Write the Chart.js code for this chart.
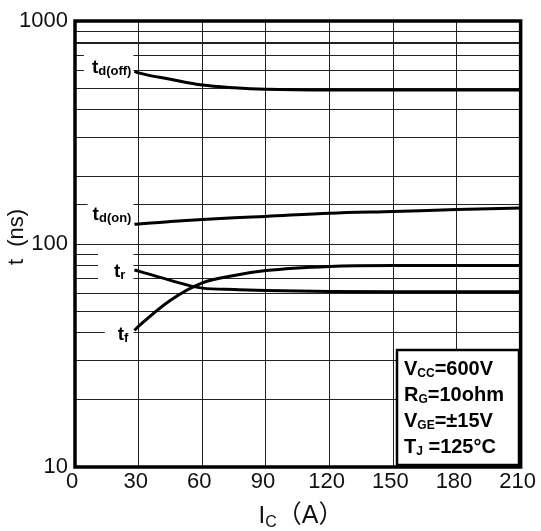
<!DOCTYPE html>
<html>
<head>
<meta charset="utf-8">
<script src="https://cdn.jsdelivr.net/npm/chart.js@4"></script>
<style>
  html, body { margin: 0; padding: 0; background: #fff; }
</style>
</head>
<body>
<canvas id="myChart" width="541" height="531"></canvas>
<script>
// switching times vs collector current
const corriente = [28, 30, 45, 60, 75, 90, 120, 150, 180, 210];
const tdOff = [595, 585, 548, 516, 502, 494, 490, 490, 490, 490];
const tdOn = [122.5, 123, 126, 128.7, 131, 133, 137.5, 140, 142.7, 145];
const tR = [76.5, 75.6, 68.7, 63.4, 62.5, 61.9, 61.3, 61, 61, 61];
const tF = [41, 42.8, 56, 67, 72.3, 76, 79.3, 80, 80, 80];
const xTicks = [0, 30, 60, 90, 120, 150, 180, 210];
const yTicks = [10, 100, 1000];
const condiciones = [
  ["V", "CC", "=600V"],
  ["R", "G", "=10ohm"],
  ["V", "GE", "=±15V"],
  ["T", "J", " =125°C"],
];

const chartEl = document.getElementById("myChart");
const FAMILY = '"Liberation Sans", Arial, sans-serif';

const toPoints = (serie) => corriente.map((x, i) => ({ x, y: serie[i] }));

// curve name labels, anchored to the first point of each curve
const curveLabels = [
  { serie: tdOff, sub: "d(off)", dx: -3, dy: 2, padL: 8, padT: 22 },
  { serie: tdOn, sub: "d(on)", dx: -3, dy: -4, padL: 5, padT: 22 },
  { serie: tR, sub: "r", dx: -9, dy: 7, padL: 16, padT: 28 },
  { serie: tF, sub: "f", dx: -6, dy: 10, padL: 13, padT: 22 },
];

const richWidth = (ctx, parts) =>
  parts.reduce((w, [txt, font]) => {
    ctx.font = font;
    return w + ctx.measureText(txt).width;
  }, 0);

const drawRich = (ctx, parts, x, y) => {
  parts.forEach(([txt, font, dy]) => {
    ctx.font = font;
    ctx.fillText(txt, x, y + dy);
    x += ctx.measureText(txt).width;
  });
  return x;
};

const decoracion = {
  id: "decoracion",
  beforeDatasetsDraw(chart) {
    const { ctx, scales } = chart;
    const x0 = scales.x.getPixelForValue(corriente[0]);
    ctx.save();
    ctx.textBaseline = "alphabetic";
    curveLabels.forEach((lab) => {
      const parts = [
        ["t", "bold 19px " + FAMILY, 0],
        [lab.sub, "bold 13px " + FAMILY, 2],
      ];
      const w = richWidth(ctx, parts);
      const right = x0 + lab.dx;
      const base = scales.y.getPixelForValue(lab.serie[0]) + lab.dy;
      ctx.fillStyle = "#fff";
      ctx.fillRect(right - w - lab.padL, base - lab.padT, w + lab.padL + (x0 - right) - 1, lab.padT + 8);
      ctx.fillStyle = "#000";
      drawRich(ctx, parts, right - w, base);
    });
    ctx.restore();
  },
  afterDraw(chart) {
    const { ctx, chartArea: a } = chart;
    ctx.save();

    // conditions box
    const bx = 397, by = 350, bw = 122, bh = 115;
    ctx.fillStyle = "#fff";
    ctx.fillRect(bx, by, bw, bh);
    ctx.strokeStyle = "#000";
    ctx.lineWidth = 2.5;
    ctx.strokeRect(bx, by, bw, bh);
    ctx.fillStyle = "#000";
    ctx.textBaseline = "alphabetic";
    condiciones.forEach(([main, sub, rest], i) => {
      drawRich(ctx, [
        [main, "bold 20px " + FAMILY, 0],
        [sub, "bold 12px " + FAMILY, 2],
        [rest, "bold 20px " + FAMILY, 0],
      ], bx + 7, by + 25 + i * 26);
    });

    // plot frame
    ctx.lineWidth = 3.5;
    ctx.strokeRect(a.left, a.top, a.right - a.left, a.bottom - a.top);

    // axis titles
    ctx.fillStyle = "#111";
    const xParts = [
      ["I", "24px " + FAMILY, 0],
      ["C", "16px " + FAMILY, 4],
      ["（A）", '25px "Liberation Sans", "Noto Sans CJK SC", sans-serif', 0],
    ];
    const xw = richWidth(ctx, xParts);
    drawRich(ctx, xParts, 301 - xw / 2, 523);

    ctx.translate(17, 237);
    ctx.rotate(-Math.PI / 2);
    ctx.font = "22px " + FAMILY;
    ctx.textAlign = "center";
    ctx.textBaseline = "middle";
    ctx.fillText("t  (ns)", 0, 0);
    ctx.restore();
  },
};

const data = {
  datasets: [tdOff, tdOn, tR, tF].map((serie) => ({
    data: toPoints(serie),
    borderColor: "#000",
    borderWidth: 3,
    pointRadius: 0,
    cubicInterpolationMode: "monotone",
  })),
};

const config = {
  type: "line",
  data,
  options: {
    responsive: false,
    animation: false,
    layout: { padding: { top: 21, right: 19, left: 0, bottom: 0 } },
    plugins: { legend: { display: false }, tooltip: { enabled: false } },
    scales: {
      x: {
        type: "linear",
        min: 0,
        max: 210,
        afterBuildTicks: (scale) => {
          scale.ticks = xTicks.map((value) => ({ value }));
        },
        afterFit: (scale) => {
          scale.height = 64;
        },
        ticks: {
          autoSkip: false,
          maxRotation: 0,
          padding: 2,
          labelOffset: -3,
          color: "#111",
          font: { family: FAMILY, size: 22 },
        },
        grid: { color: "#222", lineWidth: 1, drawTicks: false },
        border: { display: false },
      },
      y: {
        type: "logarithmic",
        min: 10,
        max: 1000,
        afterFit: (scale) => {
          scale.width = 75;
        },
        ticks: {
          autoSkip: false,
          padding: 7,
          color: "#111",
          font: { family: FAMILY, size: 22 },
          callback: (value) => (yTicks.includes(value) ? String(value) : ""),
        },
        grid: {
          color: "#222",
          lineWidth: (ctx) => (ctx.tick && ctx.tick.value === 800 ? 2 : 1),
          drawTicks: false,
        },
        border: { display: false },
      },
    },
  },
  plugins: [decoracion],
};

chartEl.style.backgroundColor = "white";
new Chart(chartEl, config);
</script>
</body>
</html>
